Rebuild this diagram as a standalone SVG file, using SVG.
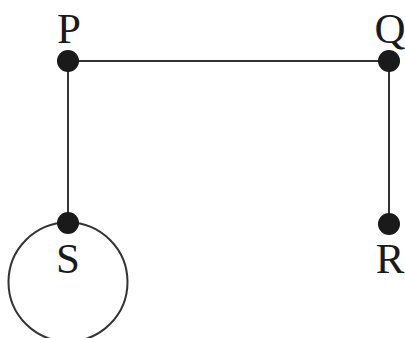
<svg xmlns="http://www.w3.org/2000/svg" width="405" height="338" viewBox="0 0 405 338">
<style>
.edge{stroke:#333;stroke-width:2;fill:none}
.dot{fill:#1a1a1a}
.lbl{font-family:"Liberation Serif","Times New Roman",serif;font-size:43px;fill:#1a1a1a;text-anchor:middle}
</style>
<rect width="405" height="338" fill="#fff"/>
<g id="connectors">
<line class="edge" x1="68" y1="61" x2="389" y2="61"/>
<line class="edge" x1="68" y1="61" x2="68" y2="223"/>
<line class="edge" x1="389" y1="61" x2="389" y2="224"/>
<circle class="edge" cx="68" cy="282" r="59.5"/>
</g>
<g id="P"><circle class="dot" cx="68" cy="61" r="11"/><text class="lbl" x="69" y="43">P</text></g>
<g id="Q"><circle class="dot" cx="389" cy="61" r="11"/><text class="lbl" x="390" y="43">Q</text></g>
<g id="S"><circle class="dot" cx="68" cy="223" r="11"/><text class="lbl" x="68" y="273">S</text></g>
<g id="R"><circle class="dot" cx="389" cy="224" r="11"/><text class="lbl" x="390" y="273">R</text></g>
</svg>
